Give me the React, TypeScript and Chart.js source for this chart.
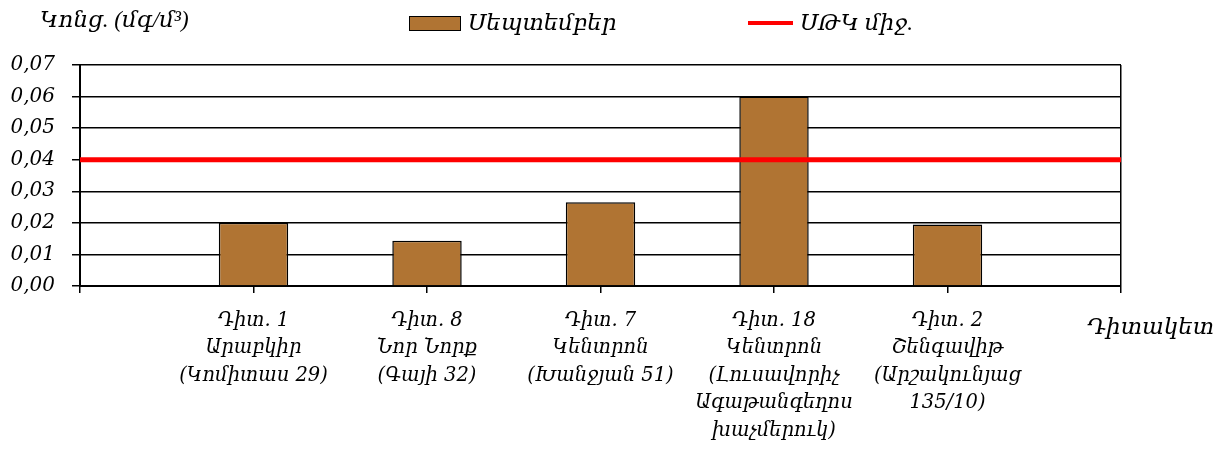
import React, { useEffect, useRef } from "react";
import { Chart, registerables } from "chart.js";

Chart.register(...registerables);

const stationLabels: string[][] = [
  [""],
  ["Դիտ. 1", "Արաբկիր", "(Կոմիտաս 29)"],
  ["Դիտ. 8", "Նոր Նորք", "(Գայի 32)"],
  ["Դիտ. 7", "Կենտրոն", "(Խանջյան 51)"],
  ["Դիտ. 18", "Կենտրոն", "(Լուսավորիչ", "Ագաթանգեղոս", "խաչմերուկ)"],
  ["Դիտ. 2", "Շենգավիթ", "(Արշակունյաց", "135/10)"],
  [""],
];
const septemberValues: (number | null)[] = [null, 0.02, 0.0143, 0.0265, 0.06, 0.0195, null];
const mpcValues: number[] = [0.04, 0.04, 0.04, 0.04, 0.04, 0.04, 0.04];
const seriesBarName = "Սեպտեմբեր";
const seriesLineName = "ՍԹԿ միջ.";
const yAxisTitle = "Կոնց. (մգ/մ³)";
const xAxisTitle = "Դիտակետ";

const FONT = "'Liberation Serif','DejaVu Serif',serif";
const NUM_FONT = "'DejaVu Serif','Liberation Serif',serif";
const BROWN = "#B07433";

export default function App() {
  const ref = useRef<HTMLCanvasElement | null>(null);
  useEffect(() => {
    document.body.style.margin = "0";
    const chart = new Chart(ref.current as HTMLCanvasElement, {
      type: "bar",
      data: {
        labels: stationLabels,
        datasets: [
          {
            type: "line",
            label: seriesLineName,
            data: mpcValues,
            borderColor: "#FF0000",
            borderWidth: 5,
            pointRadius: 0,
            order: 0,
          } as any,
          {
            type: "bar",
            label: seriesBarName,
            data: septemberValues,
            backgroundColor: BROWN,
            borderColor: "#000",
            borderWidth: 1.5,
            barPercentage: 0.4,
            categoryPercentage: 1,
            order: 1,
          } as any,
        ],
      },
      options: {
        animation: false,
        responsive: false,
        maintainAspectRatio: false,
        layout: { padding: { top: 65, right: 99, left: 0, bottom: 0 } },
        plugins: { legend: { display: false }, tooltip: { enabled: false } },
        scales: {
          x: {
            offset: false,
            afterFit: (s: any) => {
              s.height = 167;
            },
            border: { display: true, color: "#000", width: 2 },
            grid: {
              offset: false,
              color: (c: any) => (c.index === 6 ? "#000" : "rgba(0,0,0,0)"),
              lineWidth: 1.5,
              tickColor: "#000",
              tickWidth: 1.5,
              tickLength: 7,
              drawOnChartArea: true,
            },
            ticks: {
              autoSkip: false,
              maxRotation: 0,
              minRotation: 0,
              padding: 14,
              color: "#000",
              font: { family: NUM_FONT, style: "italic", size: 19.5, lineHeight: "27.5px" } as any,
            },
          },
          y: {
            min: 0,
            max: 0.07,
            afterFit: (s: any) => {
              s.width = 80;
            },
            border: { display: true, color: "#000", width: 2 },
            grid: {
              color: "#000",
              lineWidth: 1.5,
              tickColor: "#000",
              tickLength: 8,
            },
            ticks: {
              stepSize: 0.01,
              padding: 17,
              color: "#000",
              font: { family: NUM_FONT, style: "italic", size: 20 },
              callback: (v: any) => Number(v).toFixed(2).replace(".", ","),
            },
          },
        },
      },
    });
    return () => chart.destroy();
  }, []);

  const textStyle: React.CSSProperties = {
    position: "absolute",
    fontFamily: FONT,
    fontStyle: "italic",
    fontSize: 23,
    color: "#000",
    whiteSpace: "nowrap",
    lineHeight: "26px",
  };

  return (
    <div style={{ position: "relative", width: 1220, height: 453, background: "#fff", overflow: "hidden" }}>
      <canvas ref={ref} width={1220} height={453} style={{ display: "block" }} />
      <div style={{ ...textStyle, left: 40, top: 7 }}>{yAxisTitle}</div>
      <div
        style={{
          position: "absolute",
          left: 409,
          top: 16,
          width: 50,
          height: 13,
          background: BROWN,
          border: "1.5px solid #000",
        }}
      />
      <div style={{ ...textStyle, left: 468, top: 10 }}>{seriesBarName}</div>
      <div style={{ position: "absolute", left: 748, top: 21, width: 45, height: 4, background: "#FF0000" }} />
      <div style={{ ...textStyle, left: 800, top: 10 }}>{seriesLineName}</div>
      <div style={{ ...textStyle, left: 1087, top: 314 }}>{xAxisTitle}</div>
    </div>
  );
}
